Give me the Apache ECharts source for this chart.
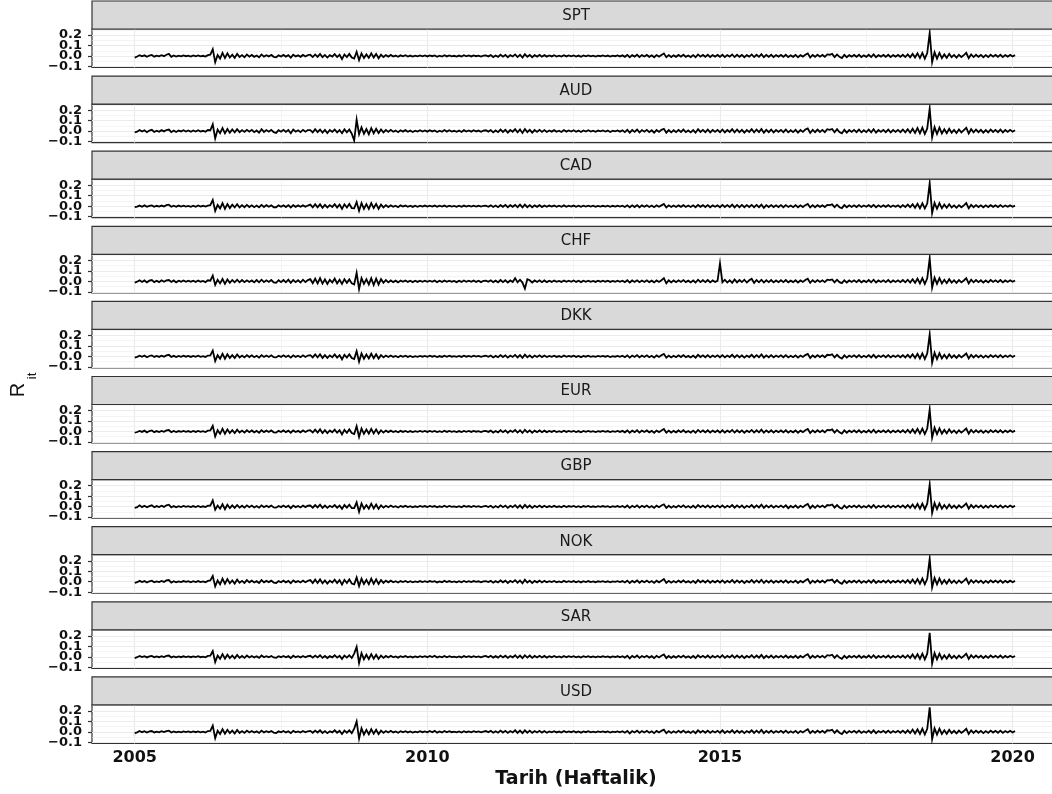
<!DOCTYPE html>
<html>
<head>
<meta charset="utf-8">
<script src="https://cdn.jsdelivr.net/npm/echarts@6/dist/echarts.min.js"></script>
<style>
html, body { margin: 0; padding: 0; background: #fff; }
#chart { width: 1052px; height: 794px; }
</style>
</head>
<body>
<div id="chart"></div>
<script>
const startYear = 2005.0;
const stepYears = 1 / 24;

const currencies = ['SPT', 'AUD', 'CAD', 'CHF', 'DKK', 'EUR', 'GBP', 'NOK', 'SAR', 'USD'];

const spt = [
  -15,-5,8,-3,6,-8,4,10,-6,3,-4,7,-2,12,20,-8,5,-6,3,-4,6,-2,4,-5,
  5,-3,6,-4,2,-5,8,12,65,-60,10,-25,30,-20,25,-15,12,-18,20,-10,8,-12,15,-6,
  10,-8,5,-12,15,-6,8,-4,10,-8,-12,6,-5,10,-6,8,-15,12,-4,6,-8,10,-5,8,
  12,-10,15,-8,20,-12,10,-15,8,-6,18,-10,12,-30,15,-10,20,-15,-25,40,-40,25,-20,15,
  -18,25,-15,20,-22,12,-10,8,-6,10,-5,4,-8,6,-3,7,-5,4,-6,3,-4,6,-3,5,
  -4,6,-2,5,-7,3,-5,8,-4,6,-3,2,-5,4,-6,7,-3,5,-4,6,-2,4,-5,3,
  6,-4,8,-10,5,-8,12,-6,10,-12,8,-5,15,-10,12,-15,18,-8,10,-12,8,-6,10,-7,
  8,-6,5,-4,7,-5,3,-6,8,-4,5,-3,6,-5,4,-7,5,-3,6,-4,3,-5,4,-2,
  5,-3,4,-6,3,-2,5,-4,6,-8,10,-12,8,-6,12,-10,8,-5,10,-8,6,-12,9,-6,
  10,25,-12,8,-10,6,-8,10,-6,12,-8,5,-10,8,-12,15,-6,10,-8,12,-10,8,-6,10,
  -8,12,-10,8,-6,15,-10,12,-8,10,-12,8,-6,15,-10,12,-8,18,-12,10,-8,12,-10,8,
  -6,10,-8,12,-10,6,-8,10,-12,8,-6,12,25,-15,10,-8,12,-6,10,-8,15,12,20,-10,
  15,-8,-20,10,-12,8,-6,10,-8,12,-10,6,-8,12,-10,15,-12,8,-6,10,-8,12,-10,8,
  -6,10,-8,12,-10,15,-12,20,-15,25,-20,30,-25,28,220,-60,35,-25,30,-20,15,-18,20,-12,
  10,-15,12,-10,8,30,-20,15,-10,12,-8,10,-12,8,-10,12,-6,10,-8,12,-10,8,-6,10,
  -5,8
];

const aud = [
  -12,-6,10,-4,8,-10,5,12,-8,4,-6,9,-3,10,15,-10,6,-8,5,-3,8,-4,6,-6,
  6,-4,8,-5,3,-6,10,8,65,-70,15,-20,28,-22,20,-15,15,-12,18,-10,10,-8,12,-5,
  12,-10,6,-15,18,-8,10,-6,12,-10,-18,8,-6,12,-8,10,-20,15,-6,8,-10,12,-6,10,
  10,-12,18,-10,15,-15,12,-18,10,-8,15,-12,10,-20,18,-12,15,-25,-90,110,-30,35,-25,20,
  -30,28,-20,22,-18,15,-12,10,-8,12,-6,5,-10,8,-5,9,-6,5,-8,4,-5,8,-4,6,
  -5,8,-3,6,-9,4,-6,10,-5,8,-4,3,-6,5,-8,9,-4,6,-5,8,-3,5,-6,4,
  8,-5,10,-12,6,-10,15,-8,12,-15,10,-6,18,-12,15,-18,20,-10,12,-15,10,-8,12,-8,
  10,-8,6,-5,9,-6,4,-8,10,-5,6,-4,8,-6,5,-9,6,-4,8,-5,4,-6,5,-3,
  6,-4,5,-8,4,-3,6,-5,8,-10,12,-15,10,-8,15,-12,10,-6,12,-10,8,-15,10,-8,
  12,22,-15,10,-12,8,-10,12,-8,15,-10,6,-12,10,-15,18,-8,12,-10,15,-12,10,-8,12,
  -10,15,-12,10,-8,18,-12,15,-10,12,-15,10,-8,18,-12,15,-10,20,-15,12,-10,15,-12,10,
  -8,12,-10,15,-12,8,-10,12,-15,10,-8,15,25,-18,12,-10,15,-8,12,-10,18,12,20,-12,
  18,-10,-22,12,-15,10,-8,12,-10,15,-12,8,-10,15,-12,18,-15,10,-8,12,-10,15,-12,10,
  -8,12,-10,15,-12,18,-15,22,-18,28,-22,32,-28,25,215,-60,38,-28,32,-22,18,-20,22,-15,
  12,-18,15,-12,10,32,-22,18,-12,15,-10,12,-15,10,-12,15,-8,12,-10,15,-12,10,-8,12,
  -6,8
];

const cad = [
  -10,-4,6,-5,8,-6,3,8,-5,4,-3,6,-4,10,14,-6,4,-5,6,-3,5,-4,3,-6,
  4,-5,7,-3,4,-4,6,10,60,-45,12,-22,28,-25,20,-18,15,-12,18,-12,10,-10,12,-8,
  8,-10,6,-10,12,-8,10,-5,8,-10,-10,8,-6,8,-8,10,-12,10,-6,8,-6,8,-6,6,
  15,-12,18,-10,18,-15,12,-12,10,-8,20,-12,15,-25,18,-12,22,-18,-20,40,-45,30,-25,20,
  -25,30,-18,22,-25,15,-12,10,-8,8,-6,5,-10,8,-4,6,-6,5,-7,4,-5,5,-4,6,
  -3,5,-4,6,-6,4,-4,6,-5,5,-3,3,-6,5,-5,6,-4,5,-3,5,-3,4,-4,4,
  5,-5,8,-8,6,-10,10,-6,12,-10,10,-6,12,-10,15,-12,15,-10,10,-10,8,-6,10,-8,
  7,-6,6,-4,6,-6,4,-5,8,-5,4,-4,6,-5,5,-6,4,-4,5,-4,4,-5,3,-3,
  4,-3,5,-5,4,-3,4,-4,5,-8,8,-10,8,-8,10,-10,8,-6,8,-8,6,-10,8,-6,
  8,22,-12,8,-8,6,-8,8,-6,10,-8,6,-8,8,-10,12,-6,10,-8,10,-10,8,-6,8,
  -10,12,-8,10,-8,15,-12,12,-10,12,-10,10,-8,12,-10,12,-10,15,-15,10,-8,10,-8,8,
  -8,10,-10,10,-8,6,-10,10,-10,8,-8,10,22,-12,10,-10,10,-6,8,-8,12,10,18,-10,
  14,-10,-18,10,-10,8,-8,8,-8,10,-8,6,-6,10,-8,12,-10,8,-8,8,-6,10,-8,6,
  -6,8,-10,10,-8,15,-10,18,-15,22,-20,28,-22,25,220,-65,32,-25,28,-20,15,-15,18,-12,
  8,-15,10,-10,8,30,-20,12,-10,10,-8,8,-10,8,-8,10,-6,8,-8,10,-8,6,-6,8,
  -5,6
];

const chf = [
  -12,-4,10,-6,8,-10,6,12,-8,5,-8,10,-4,8,12,-6,8,-10,5,-4,8,-5,6,-4,
  5,-6,8,-4,3,-8,10,6,55,-35,15,-20,22,-25,18,-15,12,-10,15,-10,12,-8,10,-6,
  8,-10,12,-10,15,-8,10,-6,12,-10,-15,10,-8,12,-10,15,-15,12,-8,10,-12,15,-8,12,
  20,-18,25,-20,30,-22,18,-25,15,-12,25,-20,15,-25,20,-15,18,-20,-30,80,-75,30,-25,20,
  -30,28,-35,25,-30,20,-15,12,-10,8,-8,6,-10,8,-5,8,-6,5,-8,5,-6,6,-4,6,
  -5,6,-4,8,-8,5,-6,8,-5,6,-4,4,-8,6,-6,8,-4,6,-5,8,-6,5,-8,5,
  6,-5,10,-8,6,-10,12,-8,10,-12,8,-6,30,-10,15,-12,-70,20,10,-12,8,-6,10,-8,
  8,-8,6,-6,8,-5,4,-6,8,-5,6,-4,8,-6,5,-8,6,-4,6,-5,4,-6,5,-4,
  6,-4,5,-6,4,-4,6,-5,6,-8,10,-12,8,-6,10,-8,8,-6,10,-8,6,-10,8,-6,
  10,30,-20,10,-10,8,-8,10,-6,12,-8,6,-10,8,-12,15,-8,10,-8,12,-10,8,-6,5,
  170,-10,15,-12,10,-15,18,-10,12,-8,15,-12,10,25,-15,12,-10,15,-12,10,-8,12,-10,8,
  -8,10,-8,12,-10,6,-8,10,-12,8,-6,12,25,-15,10,-8,12,-6,10,-8,15,12,18,-10,
  15,-8,-18,10,-12,8,-6,10,-8,12,-10,6,-8,12,-10,15,-12,8,-6,10,-8,12,-10,8,
  -6,10,-8,12,-10,15,-12,20,-15,25,-20,30,-25,28,220,-60,35,-25,30,-20,15,-18,20,-12,
  10,-15,12,-10,8,30,-20,15,-10,12,-8,10,-12,8,-10,12,-6,10,-8,12,-10,8,-6,10,
  -5,8
];

const dkk = [
  -12,-5,6,-4,8,-8,4,10,-5,4,-5,6,-3,10,15,-6,5,-6,4,-4,6,-3,4,-5,
  5,-4,6,-4,3,-5,8,10,55,-45,12,-22,25,-22,20,-15,12,-15,18,-10,8,-10,12,-6,
  10,-8,6,-12,12,-6,8,-5,10,-8,-10,6,-5,10,-6,8,-12,10,-5,6,-8,10,-5,8,
  12,-10,18,-10,20,-15,12,-15,10,-8,18,-12,12,-28,15,-12,20,-15,-25,50,-50,28,-22,18,
  -20,25,-18,20,-20,12,-10,8,-6,8,-5,4,-8,6,-4,6,-5,4,-6,3,-4,5,-3,5,
  -4,6,-3,5,-6,3,-5,7,-4,6,-3,3,-5,4,-5,6,-3,5,-4,6,-2,4,-5,3,
  6,-4,8,-10,5,-8,12,-6,10,-12,8,-5,14,-10,12,-14,16,-8,10,-12,8,-6,10,-7,
  8,-6,5,-4,7,-5,3,-6,8,-4,5,-3,6,-5,4,-7,5,-3,6,-4,3,-5,4,-2,
  5,-3,4,-6,3,-3,5,-4,6,-8,10,-12,8,-6,12,-10,8,-5,10,-8,6,-12,9,-6,
  10,24,-12,8,-10,6,-8,10,-6,12,-8,5,-10,8,-12,15,-6,10,-8,12,-10,8,-6,10,
  -8,12,-10,8,-6,15,-10,12,-8,10,-12,8,-6,15,-10,12,-8,18,-12,10,-8,12,-10,8,
  -6,10,-8,12,-10,6,-8,10,-12,8,-6,12,24,-15,10,-8,12,-6,10,-8,15,12,20,-10,
  15,-8,-20,10,-12,8,-6,10,-8,12,-10,6,-8,12,-10,15,-12,8,-6,10,-8,12,-10,8,
  -6,10,-8,12,-10,15,-12,20,-15,25,-20,28,-25,28,210,-60,35,-25,30,-20,15,-18,20,-12,
  10,-15,12,-10,8,28,-20,15,-10,12,-8,10,-12,8,-10,12,-6,10,-8,12,-10,8,-6,10,
  -5,8
];

const eur = [
  -12,-5,6,-4,8,-8,4,10,-6,4,-5,6,-3,10,14,-6,5,-6,4,-4,6,-3,4,-5,
  5,-4,6,-4,3,-5,8,10,55,-48,12,-22,25,-22,20,-15,12,-15,18,-10,8,-10,12,-6,
  10,-8,6,-12,12,-6,8,-5,10,-8,-10,6,-5,10,-6,8,-12,10,-5,6,-8,10,-5,8,
  12,-10,18,-10,20,-15,12,-15,10,-8,18,-12,12,-28,15,-12,20,-15,-25,50,-52,28,-22,18,
  -20,25,-18,20,-20,12,-10,8,-6,8,-5,4,-8,6,-4,6,-5,4,-6,3,-4,5,-3,5,
  -4,6,-3,5,-6,3,-5,7,-4,6,-3,3,-5,4,-5,6,-3,5,-4,6,-2,4,-5,3,
  6,-4,8,-10,5,-8,12,-6,10,-12,8,-5,14,-10,12,-14,16,-8,10,-12,8,-6,10,-7,
  8,-6,5,-4,7,-5,3,-6,8,-4,5,-3,6,-5,4,-7,5,-3,6,-4,3,-5,4,-2,
  5,-3,4,-6,3,-3,5,-4,6,-8,10,-12,8,-6,12,-10,8,-5,10,-8,6,-12,9,-6,
  10,24,-12,8,-10,6,-8,10,-6,12,-8,5,-10,8,-12,15,-6,10,-8,12,-10,8,-6,10,
  -10,12,-10,8,-6,15,-10,12,-8,10,-12,8,-6,15,-10,12,-8,18,-12,10,-8,12,-10,8,
  -6,10,-8,12,-10,6,-8,10,-12,8,-6,12,24,-15,10,-8,12,-6,10,-8,15,12,20,-10,
  15,-8,-20,10,-12,8,-6,10,-8,12,-10,6,-8,12,-10,15,-12,8,-6,10,-8,12,-10,8,
  -6,10,-8,12,-10,15,-12,20,-15,25,-20,28,-25,28,210,-60,35,-25,30,-20,15,-18,20,-12,
  10,-15,12,-10,8,28,-20,15,-10,12,-8,10,-12,8,-10,12,-6,10,-8,12,-10,8,-6,10,
  -5,8
];

const gbp = [
  -12,-6,12,-5,8,-6,4,12,-6,5,-4,8,-3,12,18,-8,5,-6,4,-4,6,-3,4,-5,
  5,-4,6,-4,3,-5,8,10,60,-30,10,-20,22,-25,18,-15,12,-12,15,-10,8,-10,12,-6,
  10,-8,6,-10,12,-6,8,-5,10,-8,-10,6,-5,10,-6,8,-15,10,-5,6,-8,10,-5,8,
  10,-10,15,-8,18,-12,10,-12,8,-6,15,-10,10,-22,15,-10,18,-15,-15,40,-50,30,-20,15,
  -20,28,-18,20,-22,12,-10,8,-6,10,-5,4,-8,6,-3,7,-5,4,-6,3,-4,6,-3,5,
  -4,6,-3,5,-7,3,-5,8,-4,6,-3,2,-5,4,-6,7,-3,5,-4,6,-2,4,-5,3,
  6,-4,8,-10,5,-8,12,-6,10,-12,8,-5,14,-10,12,-14,16,-8,10,-12,8,-6,10,-7,
  8,-6,5,-4,7,-5,3,-6,8,-4,5,-3,6,-5,4,-7,5,-3,6,-4,3,-5,4,-2,
  5,-3,4,-6,3,-2,5,-4,6,-8,10,-12,8,-6,12,-10,8,-5,10,-8,6,-12,9,-6,
  10,22,-12,8,-10,6,-8,10,-6,12,-8,5,-10,8,-12,15,-6,10,-8,12,-10,8,-6,10,
  -8,12,-10,8,-6,15,-10,12,-8,10,-12,8,-6,15,-10,12,-8,18,-12,10,-8,12,-10,8,
  -6,10,-8,12,-15,6,-8,10,-12,8,-6,12,25,-15,10,-12,12,-6,10,-8,15,12,20,-10,
  15,-8,-20,10,-12,8,-6,10,-8,12,-10,6,-8,12,-10,15,-12,8,-6,10,-8,12,-10,8,
  -6,10,-8,12,-10,15,-12,20,-15,25,-20,28,-25,28,210,-60,35,-25,30,-20,15,-18,20,-12,
  10,-15,12,-10,8,30,-20,15,-10,12,-8,10,-12,8,-10,12,-6,10,-8,12,-10,8,-6,10,
  -5,8
];

const nok = [
  -12,-5,8,-4,6,-8,4,10,-6,3,-4,7,-2,12,16,-8,5,-6,3,-4,6,-2,4,-5,
  5,-3,6,-4,2,-5,8,12,55,-45,12,-25,28,-20,25,-15,12,-18,20,-10,8,-12,15,-6,
  10,-8,5,-12,15,-6,8,-4,10,-8,-12,6,-5,10,-6,8,-15,12,-4,6,-8,10,-5,8,
  15,-12,20,-12,22,-15,12,-18,10,-8,20,-12,15,-28,18,-12,22,-18,-25,40,-42,28,-22,18,
  -25,28,-20,22,-22,15,-12,10,-6,10,-5,4,-8,6,-3,7,-5,4,-6,3,-4,6,-3,5,
  -4,6,-2,5,-7,3,-5,8,-4,6,-3,2,-5,4,-6,7,-3,5,-4,6,-2,4,-5,3,
  6,-4,8,-10,5,-8,12,-6,10,-12,8,-5,15,-10,12,-15,18,-8,10,-12,8,-6,10,-7,
  8,-6,5,-4,7,-5,3,-6,8,-4,5,-3,6,-5,4,-7,5,-3,6,-4,3,-5,4,-2,
  5,-3,4,-6,3,-2,5,-4,6,-8,10,-12,8,-6,12,-10,8,-5,10,-8,6,-12,9,-6,
  10,25,-12,8,-10,6,-8,10,-6,12,-8,5,-10,8,-12,15,-6,10,-8,12,-10,8,-6,10,
  -8,12,-10,8,-6,15,-10,12,-8,10,-12,8,-6,15,-10,12,-8,18,-12,10,-8,12,-10,8,
  -6,10,-8,12,-10,6,-8,10,-12,8,-6,12,25,-15,10,-8,12,-6,10,-8,15,12,20,-10,
  15,-8,-20,10,-12,8,-6,10,-8,12,-10,6,-8,12,-10,15,-12,8,-6,10,-8,12,-10,8,
  -6,10,-8,12,-10,15,-12,20,-15,25,-20,30,-25,28,220,-55,35,-25,30,-20,15,-18,20,-12,
  10,-15,12,-10,8,30,-20,15,-10,12,-8,10,-12,8,-10,12,-6,10,-8,12,-10,8,-6,10,
  -5,8
];

const sar = [
  -12,-4,8,-3,6,-6,4,8,-5,3,-4,6,-2,8,12,-6,4,-5,3,-4,5,-2,4,-4,
  4,-3,5,-4,2,-5,8,10,55,-50,12,-20,25,-18,20,-12,12,-15,18,-10,8,-10,12,-6,
  8,-6,5,-10,12,-5,6,-4,8,-6,-10,5,-4,8,-5,6,-12,10,-4,5,-6,8,-4,6,
  10,-8,12,-6,15,-10,8,-12,6,-5,15,-8,10,-20,12,-8,15,-12,30,95,-60,35,-25,20,
  -22,25,-18,20,-20,12,-10,8,-6,10,-5,4,-8,6,-3,7,-5,4,-6,3,-4,6,-3,5,
  -4,8,-3,10,-7,4,-5,8,-4,6,-3,2,-5,4,-6,7,-3,5,-4,6,-2,4,-5,3,
  8,-4,10,-8,6,-8,12,-6,10,-10,8,-5,15,-10,12,-12,15,-8,12,-10,8,-6,10,-7,
  8,-8,5,-4,7,-5,3,-6,8,-4,5,-3,6,-5,4,-7,5,-3,6,-4,3,-5,4,-2,
  5,-3,4,-6,3,-2,5,-4,6,-8,10,-15,8,-6,12,-10,8,-5,10,-8,6,-12,9,-6,
  10,22,-12,8,-10,6,-8,10,-6,12,-8,5,-10,8,-12,15,-6,10,-8,12,-10,8,-6,10,
  -8,15,-10,8,-6,15,-10,12,-8,10,-12,8,-6,15,-10,12,-8,18,-12,10,-8,12,-10,8,
  -6,10,-8,12,-10,6,-8,10,-12,8,-6,12,25,-12,10,-8,12,-6,10,-8,15,12,20,-10,
  15,-8,-20,10,-12,8,-6,10,-8,12,-10,6,-8,12,-10,15,-12,8,-6,10,-8,12,-10,8,
  -6,10,-8,12,-10,15,-12,22,-15,25,-20,30,-25,30,230,-65,35,-25,30,-20,15,-18,20,-12,
  10,-15,12,-10,8,30,-20,15,-10,12,-8,10,-12,8,-10,12,-6,10,-8,12,-10,8,-6,10,
  -5,8
];

const usd = [
  -12,-4,8,-3,6,-6,4,8,-5,3,-4,6,-2,8,12,-6,4,-5,3,-4,5,-2,4,-4,
  4,-3,5,-4,2,-5,8,10,60,-60,12,-20,25,-18,20,-12,12,-15,18,-10,8,-10,12,-6,
  8,-6,5,-10,12,-5,6,-4,8,-6,-10,5,-4,8,-5,6,-12,10,-4,5,-6,8,-4,6,
  10,-8,12,-6,15,-10,8,-12,6,-5,15,-8,10,-20,12,-8,15,-12,30,100,-65,35,-25,20,
  -22,25,-18,20,-20,12,-10,8,-6,10,-5,4,-8,6,-3,7,-5,4,-6,3,-4,6,-3,5,
  -4,8,-3,10,-7,4,-5,8,-4,6,-3,2,-5,4,-6,7,-3,5,-4,6,-2,4,-5,3,
  8,-4,10,-8,6,-8,12,-6,10,-10,8,-5,15,-10,12,-12,15,-8,12,-10,8,-6,10,-7,
  8,-8,5,-4,7,-5,3,-6,8,-4,5,-3,6,-5,4,-7,5,-3,6,-4,3,-5,4,-2,
  5,-3,4,-6,3,-2,5,-4,6,-8,10,-15,8,-6,12,-10,8,-5,10,-8,6,-12,9,-6,
  10,22,-12,8,-10,6,-8,10,-6,12,-8,5,-10,8,-12,15,-6,10,-8,12,-10,8,-6,10,
  -8,15,-10,8,-6,15,-10,12,-8,10,-12,8,-6,15,-10,12,-8,18,-12,10,-8,12,-10,8,
  -6,10,-8,12,-10,6,-8,10,-12,8,-6,12,25,-12,10,-8,12,-6,10,-8,15,12,20,-10,
  15,-8,-20,10,-12,8,-6,10,-8,12,-10,6,-8,12,-10,15,-12,8,-6,10,-8,12,-10,8,
  -6,10,-8,12,-10,15,-12,22,-15,25,-20,30,-25,30,235,-70,35,-25,30,-20,15,-18,20,-12,
  10,-15,12,-10,8,30,-20,15,-10,12,-8,10,-12,8,-10,12,-6,10,-8,12,-10,8,-6,10,
  -5,8
];

const xTicks = [2005, 2010, 2015, 2020];
const xMinor = [2007.5, 2012.5, 2017.5];
const yTicks = [-0.1, 0, 0.1, 0.2];
const yMinor = [-0.05, 0.05, 0.15, 0.25];
// labels are packed tighter than their text height, so they are split over two
// stacked axes that share one scale
const yTicksOdd = [-0.1, 0.1];
const yTicksEven = [0, 0.2];

const allValues = [spt, aud, cad, chf, dkk, eur, gbp, nok, sar, usd];

const chart = echarts.init(document.getElementById('chart'));

const left = 92, width = 968, firstTop = 29, pitch = 75.1, panelH = 38.5, stripH = 28;
const ink = '#111';
const frame = '#333333';

function yLabel(v) {
  const s = Math.abs(v) < 1e-9 ? '0.0' : v.toFixed(1);
  return s.replace('-', '\u2212');
}

function yAxisFor(k, values) {
  return {
    type: 'value', gridIndex: k, position: 'left', offset: 0,
    min: -0.11, max: 0.258,
    axisLine: { show: false },
    splitLine: { show: false },
    axisTick: { show: true, length: 4, customValues: values, lineStyle: { color: frame, width: 1.2 } },
    axisLabel: {
      customValues: values, margin: 10, formatter: yLabel,
      showMinLabel: true, showMaxLabel: true, hideOverlap: false,
      fontFamily: 'DejaVu Sans', fontWeight: 'bold', fontSize: 13, color: ink
    }
  };
}

const grids = [], xAxes = [], yAxes = [], series = [], graphics = [];

currencies.forEach(function (name, k) {
  const top = firstTop + pitch * k;
  const last = k === currencies.length - 1;
  grids.push({
    left: left, top: top, width: width, height: panelH,
    show: true, backgroundColor: '#fff', borderColor: frame, borderWidth: 1.2,
    containLabel: false, outerBoundsMode: 'none'
  });
  xAxes.push({
    type: 'value', gridIndex: k, min: 2004.27, max: 2020.81,
    axisLine: { show: false },
    splitLine: { show: false },
    axisTick: { show: last, length: 4, customValues: xTicks, lineStyle: { color: frame, width: 1.2 } },
    axisLabel: {
      show: last, customValues: xTicks, margin: 6,
      showMinLabel: true, showMaxLabel: true, hideOverlap: false,
      formatter: function (v) { return String(v); },
      fontFamily: 'DejaVu Sans', fontWeight: 'bold', fontSize: 16, color: ink
    }
  });
  yAxes.push(yAxisFor(k, yTicksOdd));
  yAxes.push(yAxisFor(k, yTicksEven));

  const gridLines = []
    .concat(xTicks.map(function (v) { return { xAxis: v, lineStyle: { width: 1.1 } }; }))
    .concat(xMinor.map(function (v) { return { xAxis: v, lineStyle: { width: 0.55 } }; }))
    .concat(yTicks.map(function (v) { return { yAxis: v, lineStyle: { width: 1.1 } }; }))
    .concat(yMinor.map(function (v) { return { yAxis: v, lineStyle: { width: 0.55 } }; }));

  series.push({
    name: name, type: 'line', xAxisIndex: k, yAxisIndex: 2 * k,
    data: allValues[k].map(function (v, i) { return [startYear + i * stepYears, v / 1000]; }),
    showSymbol: false, symbol: 'none',
    lineStyle: { color: '#000', width: 1.8, join: 'miter' },
    z: 3, animation: false, silent: true,
    markLine: {
      z: 1, silent: true, symbol: 'none', animation: false,
      label: { show: false },
      lineStyle: { color: '#ebebeb', type: 'solid' },
      emphasis: { disabled: true },
      data: gridLines
    }
  });

  const stripTop = 1 + pitch * k;
  graphics.push({
    type: 'rect', z: 5,
    shape: { x: left, y: stripTop, width: width, height: stripH },
    style: { fill: '#d9d9d9', stroke: frame, lineWidth: 1.2 }
  });
  graphics.push({
    type: 'text', z: 6, x: left + width / 2, y: stripTop + stripH / 2 + 1,
    style: {
      text: name, fill: '#1a1a1a', font: '15px "DejaVu Sans"',
      align: 'center', verticalAlign: 'middle'
    }
  });
});

graphics.push({
  type: 'text', z: 6, x: 576, y: 779,
  style: {
    text: 'Tarih (Haftalik)', fill: ink, font: 'bold 19px "DejaVu Sans"',
    align: 'center', verticalAlign: 'middle'
  }
});
graphics.push({
  type: 'text', z: 6, x: 18, y: 390, rotation: Math.PI / 2,
  style: { text: 'R', fill: ink, font: '20px "Liberation Sans"', align: 'center', verticalAlign: 'middle' }
});
graphics.push({
  type: 'text', z: 6, x: 32, y: 376, rotation: Math.PI / 2,
  style: { text: 'it', fill: ink, font: '13px "Liberation Sans"', align: 'center', verticalAlign: 'middle' }
});

chart.setOption({
  backgroundColor: '#fff',
  animation: false,
  grid: grids,
  xAxis: xAxes,
  yAxis: yAxes,
  series: series,
  graphic: graphics
});
</script>
</body>
</html>
